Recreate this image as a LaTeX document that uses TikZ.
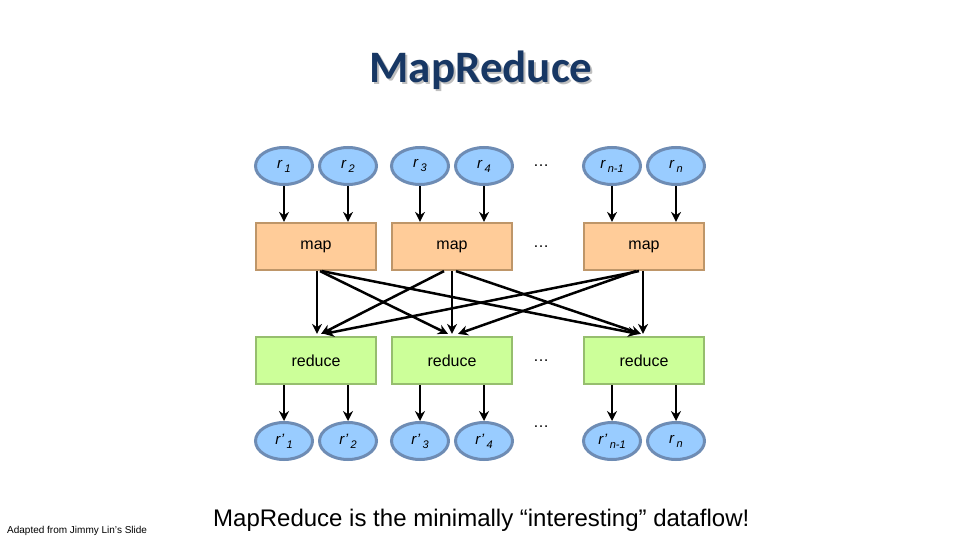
\documentclass[tikz,border=0pt]{standalone}
\usepackage{fontspec}
\setmainfont{Liberation Sans}
\newfontfamily\titlefont{Carlito}
\usetikzlibrary{shapes.geometric,arrows.meta}
\definecolor{ellfill}{RGB}{153,204,255}
\definecolor{ellborder}{RGB}{110,140,180}
\definecolor{mapfill}{RGB}{255,204,153}
\definecolor{mapborder}{RGB}{190,150,105}
\definecolor{redfill}{RGB}{204,255,153}
\definecolor{redborder}{RGB}{150,190,110}
\definecolor{titleblue}{RGB}{23,55,100}
\newcommand\rsub[1]{\,\raisebox{-4pt}{\fontsize{11}{11}\selectfont #1}}
\begin{document}
\begin{tikzpicture}[x=1pt,y=-1pt,
  rnode/.style={ellipse, draw=ellborder, fill=ellfill, line width=3pt,
    minimum width=57pt, minimum height=37pt, inner sep=0pt,
    font=\fontsize{15}{17}\selectfont\itshape},
  mapbox/.style={rectangle, draw=mapborder, fill=mapfill, line width=2.2pt,
    minimum width=120pt, minimum height=47pt, inner sep=0pt,
    font=\fontsize{16}{19}\selectfont},
  redbox/.style={rectangle, draw=redborder, fill=redfill, line width=2.2pt,
    minimum width=120pt, minimum height=47pt, inner sep=0pt,
    font=\fontsize{16}{19}\selectfont},
  dots/.style={font=\fontsize{16}{19}\selectfont, inner sep=0pt},
  arr/.style={-{Stealth[length=10pt,width=10pt]}, line width=2.5pt, black}
  ]
\useasboundingbox (0,0) rectangle (960,540);
\fill[white] (0,0) rectangle (960,540);

% title
\node[anchor=base, text=black!25, font=\titlefont\bfseries\fontsize{45}{50}\selectfont] (tshadow) at (483,85) {MapReduce};
\node[anchor=base, text=titleblue, font=\titlefont\bfseries\fontsize{45}{50}\selectfont] (title) at (481,83) {MapReduce};

% top inputs
\node[rnode] (i1) at (284,166) {r\rsub{1}};
\node[rnode] (i2) at (348,166) {r\rsub{2}};
\node[rnode] (i3) at (420,166) {r\rsub{3}};
\node[rnode] (i4) at (484,166) {r\rsub{4}};
\node[dots] (d1) at (541,166) {\ldots};
\node[rnode] (i5) at (612,166) {r\rsub{n-1}};
\node[rnode] (i6) at (676,166) {r\rsub{n}};

% map boxes
\node[mapbox] (m1) at (316,246.5) {map};
\node[mapbox] (m2) at (452,246.5) {map};
\node[dots] (d2) at (541,246.5) {\ldots};
\node[mapbox] (m3) at (644,246.5) {map};

% reduce boxes
\node[redbox] (r1) at (316,360.5) {reduce};
\node[redbox] (r2) at (452,360.5) {reduce};
\node[dots] (d3) at (541,360.5) {\ldots};
\node[redbox] (r3) at (644,360.5) {reduce};

% outputs
\node[rnode] (o1) at (284,441) {r'\rsub{1}};
\node[rnode] (o2) at (348,441) {r'\rsub{2}};
\node[rnode] (o3) at (420,441) {r'\rsub{3}};
\node[rnode] (o4) at (484,441) {r'\rsub{4}};
\node[dots] (d4) at (541,427) {\ldots};
\node[rnode] (o5) at (612,441) {r'\rsub{n-1}};
\node[rnode] (o6) at (676,441) {r\rsub{n}};

% input arrows
\draw[arr] (i1.south) -- (i1.south |- m1.north);
\draw[arr] (i2.south) -- (i2.south |- m1.north);
\draw[arr] (i3.south) -- (i3.south |- m2.north);
\draw[arr] (i4.south) -- (i4.south |- m2.north);
\draw[arr] (i5.south) -- (i5.south |- m3.north);
\draw[arr] (i6.south) -- (i6.south |- m3.north);

% shuffle arrows
\draw[arr] ([xshift=1pt]m1.south) -- ([xshift=1pt,yshift=2pt]r1.north);
\draw[arr] ([xshift=4pt]m1.south) -- ([xshift=-4pt,yshift=2pt]r2.north);
\draw[arr] ([xshift=6pt]m1.south) -- ([xshift=-6pt,yshift=2pt]r3.north);
\draw[arr] ([xshift=-8pt]m2.south) -- ([xshift=5pt,yshift=2pt]r1.north);
\draw[arr] ([xshift=0pt]m2.south) -- ([xshift=0pt,yshift=2pt]r2.north);
\draw[arr] ([xshift=4pt]m2.south) -- ([xshift=-3pt,yshift=2pt]r3.north);
\draw[arr] ([xshift=-5pt]m3.south) -- ([xshift=8pt,yshift=2pt]r1.north);
\draw[arr] ([xshift=-8pt]m3.south) -- ([xshift=6pt,yshift=2pt]r2.north);
\draw[arr] ([xshift=-1pt]m3.south) -- ([xshift=-1pt,yshift=2pt]r3.north);

% output arrows
\draw[arr] (o1.north |- r1.south) -- (o1.north);
\draw[arr] (o2.north |- r1.south) -- (o2.north);
\draw[arr] (o3.north |- r2.south) -- (o3.north);
\draw[arr] (o4.north |- r2.south) -- (o4.north);
\draw[arr] (o5.north |- r3.south) -- (o5.north);
\draw[arr] (o6.north |- r3.south) -- (o6.north);

% captions
\node[anchor=base west, font=\fontsize{24}{28}\selectfont, inner sep=0pt] (caption) at (213,526) {MapReduce is the minimally “interesting” dataflow!};
\node[anchor=base west, font=\fontsize{10}{12}\selectfont, inner sep=0pt] (credit) at (7,533) {Adapted from Jimmy Lin’s Slide};
\end{tikzpicture}
\end{document}
